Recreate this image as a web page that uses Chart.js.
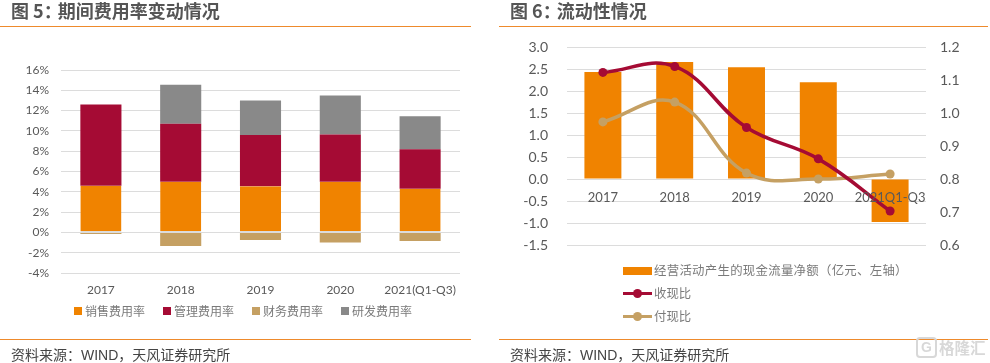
<!DOCTYPE html>
<html lang="zh"><head><meta charset="utf-8">
<script src="https://cdn.jsdelivr.net/npm/chart.js@4"></script>
<style>
html,body{margin:0;padding:0;background:#fff;width:990px;height:363px;overflow:hidden;font-family:Lato,"Noto Sans CJK SC",sans-serif}
canvas{position:absolute;top:0}
.t{position:absolute;white-space:nowrap;color:#595959}
.title{font:bold 18px/22px "Noto Sans CJK SC",sans-serif;color:#555;top:-1px}
.title span{margin-right:-4px}
.src{font:14px/18px "Liberation Sans","Noto Sans CJK SC",sans-serif;color:#444;top:346px}
.rule{position:absolute;height:1px;background:#ee8a2c}
.leg{font:12px/16px "Noto Sans CJK SC",sans-serif;color:#7a7a7a}
.sw{position:absolute}
.dot{position:absolute;width:9px;height:9px;border-radius:50%}
.mark{position:absolute;left:939px;top:336px;font:bold 15.5px/22px "Noto Sans CJK SC",sans-serif;color:#d8d8d8}
.icon{position:absolute;left:916px;top:337px;width:17px;height:17px;border:2px solid #d8d8d8;border-radius:4px;font:bold 14px/17px "Liberation Sans",sans-serif;color:#d8d8d8;text-align:center}
</style></head><body>
<canvas id="c1" style="left:0"></canvas>
<canvas id="c2" style="left:495px"></canvas>
<div class="t title" style="left:11px">图 5<span>：</span>期间费用率变动情况</div>
<div class="t title" style="left:510px">图 6<span>：</span>流动性情况</div>
<div class="rule" style="left:0;width:471px;top:26px"></div>
<div class="rule" style="left:499px;width:489px;top:26px"></div>
<div class="rule" style="left:0;width:471px;top:339px"></div>
<div class="rule" style="left:499px;width:489px;top:339px"></div>
<div class="t src" style="left:11px">资料来源：WIND，天风证券研究所</div>
<div class="t src" style="left:510px">资料来源：WIND，天风证券研究所</div>
<div class="icon">G</div>
<div class="mark">格隆汇</div>
<div id="leg"></div>
<script>
const categories1 = ['2017','2018','2019','2020','2021(Q1-Q3)'];
const salesRate   = [4.6,5.0,4.55,5.0,4.3];
const adminRate   = [8.0,5.7,5.05,4.65,3.9];
const financeRate = [-0.15,-1.35,-0.75,-1.0,-0.85];
const rdRate      = [0,3.85,3.4,3.85,3.25];
const categories2 = ['2017','2018','2019','2020','2021Q1-Q3'];
const netCashFlow = [2.43,2.66,2.54,2.2,-0.98];
const collectRatio= [1.123,1.141,0.956,0.861,0.703];
const payRatio    = [0.973,1.033,0.818,0.80,0.815];
const names1 = ['销售费用率','管理费用率','财务费用率','研发费用率'];
const names2 = ['经营活动产生的现金流量净额（亿元、左轴）','收现比','付现比'];

const ORANGE='#f08300', RED='#a50b34', TAN='#c5a063', GREY='#898989';
const GRID='#dcdcdc', TXT='#595959', FONT='Lato, "Noto Sans CJK SC", sans-serif';
Chart.defaults.animation=false;
Chart.defaults.responsive=false;
Chart.defaults.font.family=FONT;
const size=(id,w,h)=>{const c=document.getElementById(id);c.width=w;c.height=h;c.style.width=w+'px';c.style.height=h+'px';return c;};

new Chart(size('c1',495,363),{
  type:'bar',
  data:{labels:categories1,datasets:[
    {label:names1[0],data:salesRate,backgroundColor:ORANGE,borderColor:GRID,borderWidth:{bottom:1},borderSkipped:false},
    {label:names1[1],data:adminRate,backgroundColor:RED},
    {label:names1[2],data:financeRate,backgroundColor:TAN},
    {label:names1[3],data:rdRate,backgroundColor:GREY}
  ].map(d=>Object.assign(d,{barPercentage:1,categoryPercentage:0.515}))},
  options:{
    layout:{padding:{left:0,right:35,top:70,bottom:60}},
    plugins:{legend:{display:false},tooltip:{enabled:false}},
    scales:{
      x:{stacked:true,grid:{display:false},border:{display:false},
         afterFit(s){s.height=30;},
         ticks:{color:TXT,font:{size:12},padding:2,maxRotation:0,autoSkip:false}},
      y:{stacked:true,min:-4,max:16,afterFit(s){s.width=61;},
         grid:{color:GRID,lineWidth:1,drawTicks:false},border:{display:false},
         ticks:{stepSize:2,color:TXT,font:{size:12},padding:12,callback:v=>v+'%'}}
    }
  }
});

new Chart(size('c2',495,363),{
  data:{labels:categories2,datasets:[
    {type:'line',label:names2[1],data:collectRatio,yAxisID:'y1',borderColor:RED,backgroundColor:RED,borderWidth:3.5,tension:0.4,pointRadius:4.5,pointBackgroundColor:RED,pointBorderWidth:0,order:1},
    {type:'line',label:names2[2],data:payRatio,yAxisID:'y1',borderColor:TAN,backgroundColor:TAN,borderWidth:3.5,tension:0.4,pointRadius:4.5,pointBackgroundColor:TAN,pointBorderWidth:0,order:2},
    {type:'bar',label:names2[0],data:netCashFlow,yAxisID:'y',backgroundColor:ORANGE,barPercentage:1,categoryPercentage:0.515,order:3}
  ]},
  options:{
    layout:{padding:{left:0,right:0,top:47,bottom:118}},
    plugins:{legend:{display:false},tooltip:{enabled:false}},
    scales:{
      x:{position:{y:0},grid:{display:false},border:{display:false},
         ticks:{z:1,color:TXT,font:{size:13},padding:3,maxRotation:0,autoSkip:false}},
      y:{position:'left',min:-1.5,max:3,afterFit(s){s.width=72;},
         grid:{color:GRID,lineWidth:1,drawTicks:false},border:{display:false},
         ticks:{stepSize:0.5,color:TXT,font:{size:14},padding:19,callback:v=>v.toFixed(1)}},
      y1:{position:'right',min:0.6,max:1.2,afterFit(s){s.width=64;},
         grid:{display:false,drawTicks:false},border:{display:false},
         ticks:{stepSize:0.1,color:TXT,font:{size:14},padding:14,callback:v=>v.toFixed(1)}}
    }
  }
});

const leg=document.getElementById('leg');
const add=(cls,left,top,css,text)=>{const e=document.createElement('div');e.className=cls;e.style.cssText+=`left:${left}px;top:${top}px;${css}`;if(text)e.textContent=text;leg.appendChild(e);};
[[74,ORANGE],[163,RED],[252,TAN],[341,GREY]].forEach(([x,c],i)=>{
  add('sw',x,307,`width:8px;height:8px;background:${c}`);
  add('t leg',x+11,303,'',names1[i]);
});
add('sw',623,267,`width:29px;height:8px;background:${ORANGE}`);
add('t leg',654,262,'font-size:12.4px;letter-spacing:.3px',names2[0]);
[[292.5,RED,1],[316,TAN,2]].forEach(([y,c,i])=>{
  add('sw',623,y-1,`width:29px;height:3px;background:${c}`);
  add('dot',633,y-4,`background:${c}`);
  add('t leg',654,y-8,'font-size:12.4px',names2[i]);
});
</script>
</body></html>
